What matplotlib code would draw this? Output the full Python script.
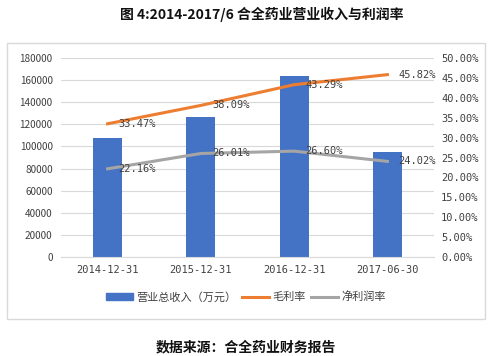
import matplotlib.pyplot as plt
from matplotlib.patches import Rectangle
from matplotlib.lines import Line2D
from matplotlib.patches import Patch

plt.rcParams['font.family'] = ['Noto Sans CJK SC', 'DejaVu Sans']

# data
dates = ['2014-12-31', '2015-12-31', '2016-12-31', '2017-06-30']
revenue = [107600, 126900, 163700, 95300]      # 营业总收入（万元）
gross_margin = [33.47, 38.09, 43.29, 45.82]     # 毛利率 %
net_margin = [22.16, 26.01, 26.60, 24.02]       # 净利润率 %

bar_color = '#4472C4'
gross_color = '#ED7D31'
net_color = '#A5A5A5'
text_color = '#404040'
mono = ['DejaVu Sans Mono']

fig = plt.figure(figsize=(4.92, 3.56), dpi=100)

# outer chart frame
fig.patches.append(Rectangle((7 / 492, 1 - 319 / 356), 478 / 492, 276 / 356,
                             transform=fig.transFigure, fill=False,
                             edgecolor='#D9D9D9', linewidth=1))

ax = fig.add_axes([61 / 492, 1 - 257 / 356, 373 / 492, 199 / 356])
x = range(len(dates))
ax.bar(x, revenue, width=0.31, color=bar_color, zorder=2)
ax.set_ylim(0, 180000)
ax.set_yticks(range(0, 180001, 20000))
ax.set_xlim(-0.5, 3.5)
ax.set_xticks(list(x))
ax.set_xticklabels(dates, family=mono)
ax.grid(axis='y', color='#D9D9D9', linewidth=0.8, zorder=0)
for s in ax.spines.values():
    s.set_visible(False)
ax.spines['bottom'].set_visible(True)
ax.spines['bottom'].set_color('#D9D9D9')
ax.tick_params(length=0, labelsize=7.2, colors=text_color, pad=6)
ax.tick_params(axis='x', labelsize=7.5)

ax2 = ax.twinx()
ax2.plot(x, gross_margin, color=gross_color, linewidth=2.2, zorder=3)
ax2.plot(x, net_margin, color=net_color, linewidth=2.2, zorder=3)
ax2.set_ylim(0, 50)
ax2.set_yticks(range(0, 51, 5))
ax2.set_yticklabels(['%.2f%%' % v for v in range(0, 51, 5)], family=mono)
for s in ax2.spines.values():
    s.set_visible(False)
ax2.tick_params(length=0, labelsize=7.5, colors=text_color, pad=5)

for xi, v in zip(x, gross_margin):
    ax2.annotate('%.2f%%' % v, (xi, v), xytext=(8, 0), textcoords='offset points',
                 va='center', ha='left', fontsize=7.5, color=text_color, family=mono)
for xi, v in zip(x, net_margin):
    ax2.annotate('%.2f%%' % v, (xi, v), xytext=(8, 0), textcoords='offset points',
                 va='center', ha='left', fontsize=7.5, color=text_color, family=mono)

handles = [Patch(color=bar_color),
           Line2D([], [], color=gross_color, linewidth=2.2),
           Line2D([], [], color=net_color, linewidth=2.2)]
labels = ['营业总收入（万元）', '毛利率', '净利润率']
fig.legend(handles, labels, loc='center', bbox_to_anchor=(246 / 492, 1 - 297 / 356),
           ncol=3, frameon=False, fontsize=8, handlelength=2.4, handleheight=0.6,
           columnspacing=0.5, handletextpad=0.3, labelcolor=text_color)

fig.text(262 / 492, 1 - 14 / 356, '图 4:2014-2017/6 合全药业营业收入与利润率',
         ha='center', va='center', fontsize=10, fontweight='bold', color='#111111')
fig.text(246 / 492, 1 - 347 / 356, '数据来源：合全药业财务报告',
         ha='center', va='center', fontsize=10, fontweight='bold', color='#111111')

fig.savefig('out.png', dpi=100)
